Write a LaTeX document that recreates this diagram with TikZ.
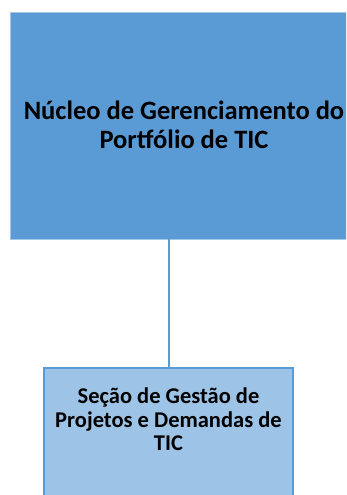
\documentclass[tikz,border=0pt]{standalone}
\usepackage{fontspec}
\setmainfont{Carlito}
\usetikzlibrary{positioning}
\definecolor{orgblue}{RGB}{91,155,213}
\definecolor{orglight}{RGB}{157,195,230}
\definecolor{orgedge}{RGB}{165,199,232}

\begin{document}
\begin{tikzpicture}[x=1pt, y=1pt,
    unit/.style={rectangle, draw=orgedge, line width=0.8pt, fill=orgblue,
                 minimum width=348pt, minimum height=227pt},
    unittext/.style={align=center, font=\fontsize{26.5}{29}\selectfont\bfseries},
    subunit/.style={rectangle, draw=orgblue, line width=2pt, fill=orglight,
                    minimum width=249pt, minimum height=180pt},
    subtext/.style={align=center, font=\fontsize{22.5}{23.5}\selectfont\bfseries},
    link/.style={draw=orgblue, line width=2pt}
]
\clip (0,0) rectangle (346,-495);

\node[unit] (nucleo) at (184,-125.5) {};
\node[unittext, below=-28pt of nucleo.center] (nucleotxt) {Núcleo de Gerenciamento do\\Portfólio de TIC};
\node[subunit, anchor=north] (secao) at (168.5,-367) {};
\node[subtext, below=17.5pt of secao.north] (secaotxt) {Seção de Gestão de\\Projetos e Demandas de\\TIC};

% vertical link between the units
\draw[link] (secao.north) -- (secao.north |- nucleo.south);

\end{tikzpicture}
\end{document}
